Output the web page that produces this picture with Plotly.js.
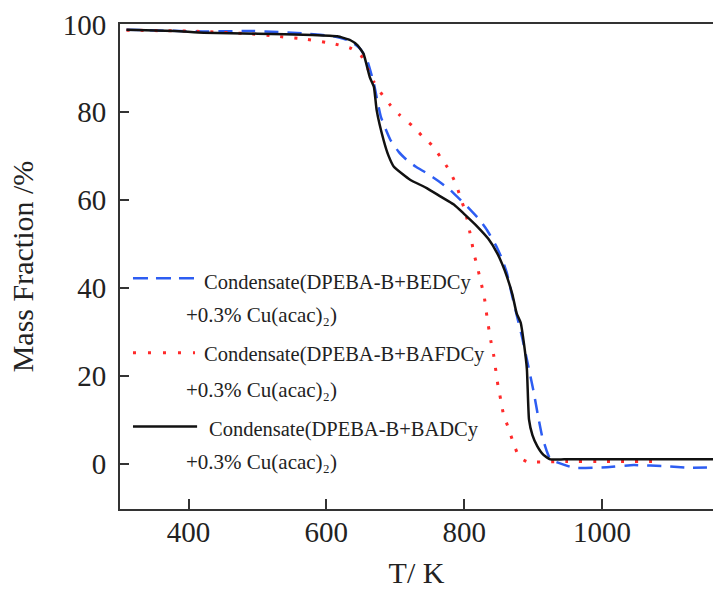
<!DOCTYPE html>
<html>
<head>
<meta charset="utf-8">
<script src="https://cdn.plot.ly/plotly-3.0.1.min.js"></script>
<style>html,body{margin:0;padding:0;background:#fff;}#chart{width:713px;height:589px;}</style>
</head>
<body>
<div id="chart"></div>
<script>
// Temperature (K) and mass fraction (%)
const bedcyT = [310, 420, 495, 572, 610, 635, 650, 660, 669, 679, 693, 705, 717, 730, 746, 763, 780, 795, 809, 822, 833, 847, 855, 862, 869, 876, 884, 891, 896, 901, 907, 913, 920, 925, 935, 959, 1007, 1046, 1095, 1124, 1161];
const bedcyY = [98.8, 98.4, 98.5, 97.9, 97.3, 96.2, 94.3, 91.5, 86.5, 79.0, 73.7, 71.0, 69.1, 67.6, 66.1, 64.3, 62.3, 60.0, 57.8, 55.6, 53.2, 49.4, 46.6, 43.4, 38.6, 34.0, 28.8, 23.7, 20.0, 16.2, 11.0, 6.3, 2.8, 1.0, 0.3, -0.9, -0.8, -0.3, -0.6, -0.9, -0.8];

const bafdcyT = [310, 420, 485, 528, 572, 611, 635, 650, 660, 669, 681, 693, 707, 725, 739, 754, 766, 778, 788, 795, 802, 810, 814, 819, 824, 829, 833, 838, 843, 846, 849, 853, 857, 865, 872, 880, 891, 950, 1000, 1085];
const bafdcyY = [98.7, 98.4, 97.9, 97.3, 96.6, 95.6, 94.6, 93.0, 90.0, 86.9, 84.0, 81.6, 79.3, 76.9, 74.6, 72.4, 69.7, 66.9, 63.7, 60.4, 57.2, 51.3, 47.9, 44.9, 41.5, 38.1, 33.5, 28.5, 24.5, 21.1, 17.8, 14.6, 11.2, 7.8, 4.4, 1.5, 0.5, 0.5, 0.5, 0.5];

const badcyT = [310, 380, 422, 500, 580, 616, 635, 645, 654, 663, 669, 673, 683, 690, 698, 710, 722, 745, 766, 785, 799, 819, 835, 848, 855, 862, 870, 876, 882, 887, 891, 894, 899, 906, 915, 925, 945, 1000, 1080, 1161];
const badcyY = [98.8, 98.5, 98.1, 97.9, 97.6, 97.3, 96.4, 95.3, 93.3, 88.0, 85.8, 80.5, 73.7, 70.2, 67.6, 66.0, 64.6, 62.8, 60.8, 59.0, 57.0, 54.0, 51.2, 47.9, 45.5, 42.6, 38.5, 34.3, 32.1, 27.0, 21.5, 10.1, 6.5, 4.0, 2.0, 1.0, 1.0, 1.0, 1.0, 1.0];

const seriesNames = ["Condensate(DPEBA-B+BEDCy", "Condensate(DPEBA-B+BAFDCy", "Condensate(DPEBA-B+BADCy"];
const secondLine = "+0.3% Cu(acac)\u2082)";
const xTicks = [400, 600, 800, 1000];
const yTicks = [0, 20, 40, 60, 80, 100];

const serif = "Liberation Serif, Times New Roman, serif";
const blue = "#2d5df2", red = "#ff2a2a", black = "#111111";

const traces = [
  {x: bedcyT, y: bedcyY, name: seriesNames[0], mode: "lines", line: {color: blue, width: 2.5, dash: "14px,9px", shape: "spline", smoothing: 0.4}},
  {x: bafdcyT, y: bafdcyY, name: seriesNames[1], mode: "lines", line: {color: red, width: 3, dash: "3px,11px", shape: "spline", smoothing: 0.4}},
  {x: badcyT, y: badcyY, name: seriesNames[2], mode: "lines", line: {color: black, width: 2.5, shape: "spline", smoothing: 0.4}}
];

// legend drawn as text + sample lines (paper coordinates)
const legRows = [0.476, 0.322, 0.170];
const legText1Y = [0.468, 0.318, 0.164];
const legText2Y = [0.400, 0.246, 0.096];
const legText1X = [0.138, 0.138, 0.146];
const legSampleEnd = [0.1265, 0.1265, 0.130];
const legDash = ["15px,8px", "3px,12px", "solid"];

const annotations = [];
const shapes = [];
for (let i = 0; i < 3; i++) {
  annotations.push({xref: "paper", yref: "paper", x: legText1X[i], y: legText1Y[i], xanchor: "left", yanchor: "middle",
    text: seriesNames[i], showarrow: false, font: {family: serif, size: 20.5, color: "#222"}});
  annotations.push({xref: "paper", yref: "paper", x: 0.1076, y: legText2Y[i], xanchor: "left", yanchor: "middle",
    text: secondLine, showarrow: false, font: {family: serif, size: 21, color: "#222"}});
  shapes.push({type: "line", xref: "paper", yref: "paper", x0: 0.0219, x1: legSampleEnd[i], y0: legRows[i], y1: legRows[i],
    line: {color: traces[i].line.color, width: traces[i].line.width, dash: legDash[i]}});
}

const layout = {
  width: 713, height: 589,
  margin: {l: 120, r: 0, t: 23.5, b: 79.5},
  paper_bgcolor: "#fff", plot_bgcolor: "#fff",
  showlegend: false,
  font: {family: serif, color: "#222"},
  xaxis: {
    range: [300.6, 1161], tickvals: xTicks, ticktext: xTicks.map(String),
    ticks: "inside", ticklen: 10, tickwidth: 2, tickcolor: "#333",
    showline: true, linecolor: "#333", linewidth: 2, mirror: true,
    showgrid: false, zeroline: false,
    tickfont: {family: serif, size: 29, color: "#222"},
    ticklabelstandoff: -4,
    title: {text: "T/ K", font: {family: serif, size: 30, color: "#222"}, standoff: 27}
  },
  yaxis: {
    range: [-10.3, 100.1], tickvals: yTicks, ticktext: yTicks.map(String),
    ticks: "inside", ticklen: 9, tickwidth: 2, tickcolor: "#333",
    showline: true, linecolor: "#333", linewidth: 2, mirror: false,
    showgrid: false, zeroline: false,
    tickfont: {family: serif, size: 29, color: "#222"},
    ticklabelstandoff: 6,
    title: {text: "Mass Fraction /%", font: {family: serif, size: 30, color: "#222"}, standoff: 20}
  },
  annotations: annotations,
  shapes: shapes
};

Plotly.newPlot("chart", traces, layout, {displayModeBar: false});
</script>
</body>
</html>
